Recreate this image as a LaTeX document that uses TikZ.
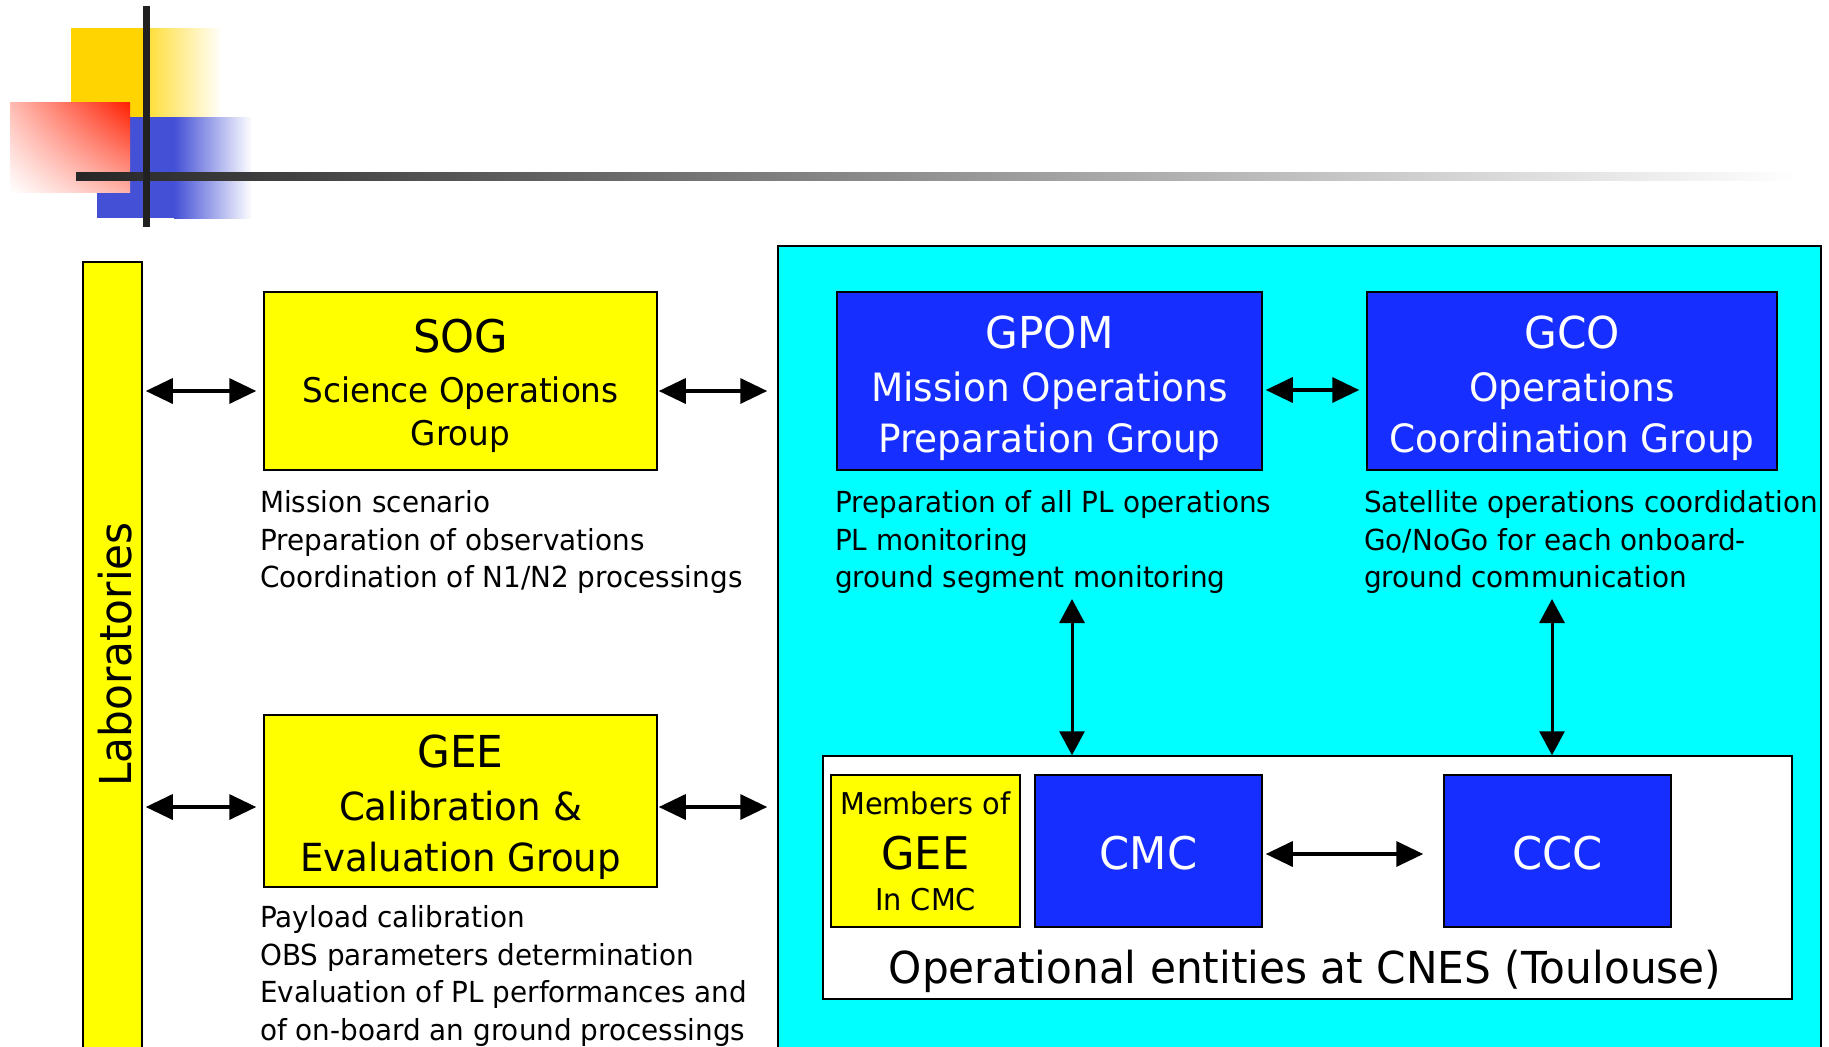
\documentclass[tikz,border=0pt]{standalone}
\usepackage{fontspec}
\setmainfont{DejaVu Sans}[FakeStretch=0.96]
\usetikzlibrary{arrows.meta,positioning,shadings}
\definecolor{boxblue}{RGB}{22,46,255}
\definecolor{boxyellow}{RGB}{255,255,0}
\definecolor{opscyan}{RGB}{0,255,255}
\definecolor{logoyellow}{RGB}{255,212,0}
\definecolor{logoblue}{RGB}{68,80,214}
\definecolor{logored}{RGB}{255,30,0}
\newcommand{\fs}[2]{\fontsize{#1}{#2}\selectfont}

\begin{document}
\begin{tikzpicture}[x=1pt, y=-1pt,
    ybox/.style={draw, line width=1.5pt, fill=boxyellow, inner sep=0pt, align=center},
    bbox/.style={draw, line width=1.5pt, fill=boxblue, text=white, inner sep=0pt, align=center},
    boxtext/.style={inner sep=0pt, align=center},
    desc/.style={anchor=north west, align=left, inner sep=0pt, font=\fs{29}{37.8}},
    both/.style={{Triangle[length=27pt,width=25pt]}-{Triangle[length=27pt,width=25pt]}, line width=3.5pt},
    vboth/.style={{Triangle[length=24pt,width=25pt]}-{Triangle[length=24pt,width=25pt]}, line width=3pt}]
    \useasboundingbox (0,0) rectangle (1829,1047);

    % logo
    \fill[logoyellow] (71,28) rectangle (150,117);
    \shade[left color=logoyellow!75, right color=white] (150,28) rectangle (222,117);
    \fill[logoblue] (97,117) rectangle (174,218);
    \shade[left color=logoblue, right color=white] (174,117) rectangle (252,218);
    \shade[upper left=logored!30, upper right=logored, lower left=white, lower right=logored!35] (10,102) rectangle (130,192);
    \shade[left color=black!85, middle color=black!25, right color=white] (76,172) rectangle (1796,180);
    \fill[black!87] (143,6) rectangle (150,227);

    % CNES area
    \node[draw, line width=1.5pt, fill=opscyan, minimum width=1043, minimum height=806, inner sep=0pt] (ops) at (1299.5,649) {};
    \node[draw, line width=1.5pt, fill=white, minimum width=969, minimum height=243, inner sep=0pt] (cnes) at (1307.5,877.5) {};
    \node[anchor=base, font=\fs{44}{50}] (cnestext) at (1305,983) {Operational entities at CNES (Toulouse)};

    \node[ybox, minimum width=59, minimum height=795] (lab) at (112.5,659.5) {};
    \node[rotate=90, inner sep=0pt, font=\fs{44}{50}] (labtext) at (115.5,654.5) {Laboratories};

    \node[ybox, minimum width=393, minimum height=178] (sog) at (460.5,381) {};
    \node[boxtext, font=\fs{34}{43}] (sogname) at ([yshift=-5pt]sog.center)
        {{\fs{45}{50}SOG}\\[7pt]Science Operations\\Group};
    \node[ybox, minimum width=393, minimum height=172] (gee) at (460.5,801) {};
    \node[boxtext, font=\fs{38.7}{51}] (geename) at ([yshift=-6pt]gee.center)
        {{\fs{44}{50}GEE}\\[2pt]Calibration \&\\Evaluation Group};
    \node[bbox, minimum width=425, minimum height=178] (gpom) at (1049.5,381) {};
    \node[boxtext, text=white, font=\fs{39}{51}] (gpomname) at ([yshift=-7pt]gpom.center)
        {{\fs{44}{50}GPOM}\\[2pt]Mission Operations\\Preparation Group};
    \node[bbox, minimum width=410, minimum height=178] (gco) at (1572,381) {};
    \node[boxtext, text=white, font=\fs{39}{51}] (gconame) at ([yshift=-7pt]gco.center)
        {{\fs{44}{50}GCO}\\[2pt]Operations\\Coordination Group};

    \node[ybox, minimum width=189, minimum height=152, font=\fs{30}{41}] (members) at (925.5,851)
        {Members of\\[14pt]{\fs{45}{50}GEE}\\In CMC};
    \node[bbox, minimum width=227, minimum height=152] (cmc) at (1148.5,851) {};
    \node[boxtext, text=white, font=\fs{45}{50}] (cmcname) at ([yshift=-2pt]cmc.center) {CMC};
    \node[bbox, minimum width=227, minimum height=152] (ccc) at (1557.5,851) {};
    \node[boxtext, text=white, font=\fs{45}{50}] (cccname) at ([yshift=-2pt]ccc.center) {CCC};

    \node[desc] (sogtext) at (260,490) {Mission scenario\\Preparation of observations\\Coordination of N1/N2 processings};
    \node[desc] (geetext) at (260,905) {Payload calibration\\OBS parameters determination\\Evaluation of PL performances and\\of on-board an ground processings};
    \node[desc] (gpomtext) at (835,490) {Preparation of all PL operations\\PL monitoring\\ground segment monitoring};
    \node[desc] (gcotext) at (1364,490) {Satellite operations coordidation\\Go/NoGo for each onboard-\\ground communication};

    % arrows
    \coordinate (sogl) at ([yshift=-10pt]sog.west);
    \coordinate (sogr) at ([yshift=-10pt]sog.east);
    \coordinate (geel) at ([yshift=-6pt]gee.west);
    \coordinate (geer) at ([yshift=-6pt]gee.east);
    \coordinate (gpomr) at ([yshift=-9pt]gpom.east);
    \coordinate (cmcr) at ([yshift=-3pt]cmc.east);
    \coordinate (gpomdn) at (1072,599);
    \coordinate (gcodn) at (1552,599);
    \draw[both, shorten <=3pt, shorten >=7pt] (sogl -| lab.east) -- (sogl);
    \draw[both, shorten <=1pt, shorten >=10pt] (sogr) -- (sogr -| ops.west);
    \draw[both, shorten <=3pt, shorten >=7pt] (geel -| lab.east) -- (geel);
    \draw[both, shorten <=1pt, shorten >=10pt] (geer) -- (geer -| ops.west);
    \draw[both, shorten <=3pt, shorten >=7pt] (gpomr) -- (gpomr -| gco.west);
    \draw[both, shorten <=3pt, shorten >=20pt] (cmcr) -- (cmcr -| ccc.west);
    \draw[vboth] (gpomdn) -- (gpomdn |- cnes.north);
    \draw[vboth] (gcodn) -- (gcodn |- cnes.north);
\end{tikzpicture}
\end{document}
